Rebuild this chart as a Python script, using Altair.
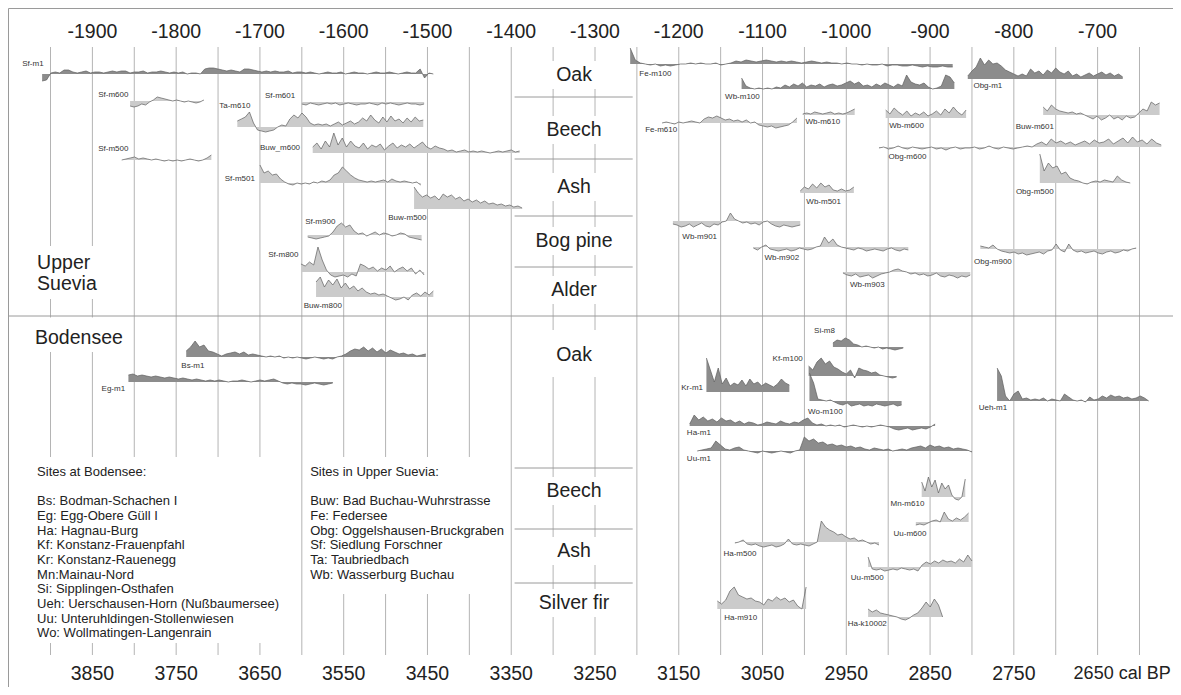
import altair as alt
import pandas as pd

FONT = "Liberation Sans"

# ---------------- axis labels ----------------
TOP_YEARS = [-1900, -1800, -1700, -1600, -1500, -1400, -1300, -1200, -1100, -1000, -900, -800, -700]
BP_LABELS = ["3850", "3750", "3650", "3550", "3450", "3350", "3250", "3150", "3050", "2950", "2850", "2750"]
BP_LAST = "2650 cal BP"
GRID_YEARS = list(range(-1950, -649, 50))

# ---------------- chronologies ----------------
NAMES = ["Sf-m1", "Sf-m600", "Sf-m601", "Ta-m610", "Buw_m600", "Sf-m500", "Sf-m501", "Buw-m500",
         "Sf-m900", "Sf-m800", "Buw-m800",
         "Fe-m100", "Wb-m100", "Obg-m1", "Fe-m610", "Wb-m610", "Wb-m600", "Buw-m601", "Obg-m600",
         "Wb-m501", "Obg-m500", "Wb-m901", "Wb-m902", "Wb-m903", "Obg-m900",
         "Bs-m1", "Eg-m1", "Si-m8", "Kf-m100", "Kr-m1", "Wo-m100", "Ueh-m1", "Ha-m1", "Uu-m1",
         "Mn-m610", "Uu-m600", "Ha-m500", "Uu-m500", "Ha-m910", "Ha-k10002"]
FIRST = [-1960, -1855, -1650, -1727, -1637, -1865, -1700, -1516, -1643, -1651, -1633,
         -1258, -1125, -855, -1220, -1052, -953, -765, -961, -1055, -769, -1207, -1111, -1004, -840,
         -1788, -1857, -1016, -1045, -1167, -1044, -820, -1187, -1178, -910, -917, -1133, -974, -1154, -974]
LAST = [-1493, -1767, -1504, -1505, -1390, -1758, -1508, -1387, -1507, -1504, -1493,
        -873, -871, -670, -1059, -990, -857, -626, -624, -991, -661, -1055, -926, -852, -654,
        -1502, -1613, -932, -940, -1068, -934, -639, -894, -850, -858, -854, -961, -850, -1048, -885]
SPECIES = ["oak", "other", "other", "other", "other", "other", "other", "other", "other", "other", "other",
           "oak", "oak", "oak", "other", "other", "other", "other", "other", "other", "other", "other",
           "other", "other", "other",
           "oak", "oak", "oak", "oak", "oak", "oak", "oak", "oak", "oak",
           "other", "other", "other", "other", "other", "other"]

VALUES = {
    "Sf-m1": [-7, -6, 1, 2, 1, 4, 4, 2, 1, 2, 3, 1, 2, 2, 1, 2, 3, 2, 3, 3, 1, 2, 2, 3, 1, 2, 2, 3, 2, 1,
              2, 1, 2, 0, 1, 1, 0, 5, 6, 6, 5, 4, 3, 4, 3, 2, 5, 5, 4, 3, 2, 3, 2, 3, 2, 2, 3, 1, 2, 2,
              1, 2, 1, 0, 1, 2, 1, 1, 2, 0, 1, 2, 1, 1, 0, 1, 2, 1, 1, 2, 1, 0, 1, 2, 1, 1, 5, -4, 1, 0],
    "Sf-m600": [-5, -6, -5, -3, -4, -1, 1, 4, 3, 2, 1, 0, 1, 0, -1, 0, -1, -2, -1, 1],
    "Sf-m601": [-2, -3, -1, -2, -3, -2, -1, -2, -1, -3, -2, -1, -2, -3, -2, -2, -1, -2, -3, -1,
                -2, -1, -2, -3, -2, -1, -2, -2, -3, -2],
    "Ta-m610": [6, 8, 10, 15, 4, -3, -4, -5, -4, -3, 0, 2, 1, 8, 12, 9, 14, 10, 4, 2, 3, 2, 3, 1,
                3, 5, 2, 4, 6, 3, 5, 9, 6, 12, 7, 4, 10, 5, 11, 6, 8, 4, 9, 5, 10, 6, 7],
    "Buw_m600": [6, 10, 4, 12, 6, 20, 8, 15, 6, 12, 7, 5, 10, 4, 8, 6, 9, 3, 7, 10, 5, 8,
                 6, 9, 5, 8, 11, 6, 4, 7, 5, 4, 2, 3, 1, 2, 3, 1, 2, 1, 2, 1, 0, 1, 2, 1, 2, 3, 1, 2],
    "Sf-m500": [0, 1, 2, 3, 1, 2, 1, 0, 1, 0, -1, 0, -1, 0, -1, 0, 1, 0, -1, 0, 2, 5],
    "Sf-m501": [18, 10, 12, 8, 9, 4, 1, -1, -2, 0, -1, 0, -1, 1, 0, 2, 1, 3, 8, 10, 16, 12, 8, 5, 3,
                2, 1, 2, 1, 2, 3, 1, 4, 2, 1, 2, 1, 0, 1, -2],
    "Buw-m500": [22, 16, 12, 14, 11, 13, 9, 15, 12, 14, 10, 12, 8, 10, 7, 9, 6, 8, 5, 6, 4, 5, 3, 4, 2, 3, 1],
    "Sf-m900": [-2, -3, -4, -3, -2, -1, 3, 9, 12, 8, 10, 4, 1, 2, -1, 1, 3, 0, 2, 1, -1, 0, 2, 1, -2, -3, -4, -5],
    "Sf-m800": [8, 6, 10, 7, 25, 12, 2, -3, -5, -4, -3, -5, -2, -4, 8, 6, 3, 5, 1, 4, 2, 6, 0, 3, 5, 1, 4, -2, 2, -3],
    "Buw-m800": [15, 20, 10, 17, 12, 18, 9, 14, 8, 11, 6, 9, 5, 3, 4, 2, 3, 1, -1, -3, -2, 0, -3,
                 2, 4, 1, 5, 2, 6],
    "Fe-m100": [16, 4, 1, 0, -1, 0, -2, -1, -2, -1, 0, 0, 1, 0, 1, 0, 0, 1, -1, 0, 1,
                3, 2, 4, 3, 2, 3, 4, 3, 2, 3, 2, 3, 2, 1, 2, 3, 2, 1, 2, 1,
                1, 0, 1, 0, 0, -1, 0, -1, -1, 0, -2, -1, -1, -2, -2, -1, -2, -3, -2, -3, -3, -2, -3, -3],
    "Wb-m100": [11, 3, 1, 0, 1, 0, 1, 0, 2, 1, 4, 2, 5, 3, 6, 2, 4, 3, 5, 2, 4, 5, 3, 4, 6, 8, 5, 7, 3, 4, 2,
                5, 3, 6, 4, 2, 5, 3, 14, 7, 5, 4, 6, 2, 0, 1, 3, 14, 12, 6],
    "Obg-m1": [3, 8, 12, 21, 14, 19, 15, 16, 13, 9, 7, 5, 3, 5, 3, 10, 6, 8, 4, 9, 6, 11, 7, 5, 8,
               3, 5, 2, 4, 6, 3, 5, 7, 4, 6, 3, 5, 2],
    "Fe-m610": [0, 1, 0, -1, 1, 0, 1, 2, 1, 0, 4, 6, 5, 7, 5, 3, 4, 2, 3, 1, 3, 0, 1,
                -2, -3, -4, -3, -5, -4, -3, -2, 1, 5],
    "Wb-m610": [1, 2, 1, 3, 2, 1, 2, 3, 1, 2, 1, 2, 4, 6],
    "Wb-m600": [8, 4, 10, 6, 3, 7, 2, 5, 3, 6, 2, 4, 7, 3, 9, 5, 11, 6, 3, 8],
    "Buw-m601": [8, 4, 10, 6, 4, 3, 2, 3, 1, 2, 0, -2, -4, -1, -5, -3, 0, -4, -2, -5, -1, -3, -2,
                 2, 6, 4, 13, 10, 12],
    "Obg-m600": [-1, 0, -2, -1, 1, -1, -2, 0, -1, -2, -1, 0, -2, -1, -3, -1, 0, -2, -1, -1, 0, -2, -1, 1,
                 -1, -2, 0, -1, -2, -1, 0, 1, 0,
                 3, 5, 2, 8, 4, 6, 3, 5, 2, 4, 6, 3, 7, 4, 5, 8, 3, 6, 9, 4, 10, 5, 7, 3, 8, 4, 2],
    "Wb-m501": [2, 6, 4, 9, 5, 10, 6, 8, 3, 2, 4, 2, 3, 6],
    "Obg-m500": [29, 12, 20, 15, 17, 9, 11, 5, 3, 2, 0, -1, 1, 2, 1, 3, 2, 1, 7, 3, 1, 0],
    "Wb-m901": [-3, -4, -6, -5, -3, -6, -4, -2, -5, -6, -3, -4, -1, 0, 8, 2, 0, -2, -1, -3, -2, -4, -1, 0,
                -3, -5, -6, -4, -5, -6, -5, -4],
    "Wb-m902": [-1, -3, 0, 2, -2, -3, -4, -3, -2, -4, -3, -1, -2, -3, -2, 0, 1, 10, 4, 8,
                2, 0, -1, -2, -3, -1, -2, -4, -3, -2, -3, -4, -2, -1, -3, -4, -2, -3],
    "Wb-m903": [-1, -3, -4, -2, -5, -4, -3, -6, -4, -2, -1, 0, 2, 3, 1, 0, -2, -1, -3, -2, -4, -3, -1,
                -4, -5, -3, -4, -6, -4, -5, -3],
    "Obg-m900": [3, 2, 1, 4, 0, -2, -3, -4, -3, -5, -4, -6, -5, -4, -3, -5, -2, -1, 5, -1, -3, 5,
                 -1, -3, -2, -4, -3, -2, -4, -5, -3, -2, -4, -3, -1, -2, 0, 1],
    "Bs-m1": [6, 10, 16, 10, 12, 6, 5, 3, 1, 3, 4, 5, 3, 5, 2, 3,
              2, 1, 0, 1, 0, 1, -1, 0, -1, 0, -1, -2, -1, 0, -1, -2, -1, -2, 0, 1,
              3, 6, 8, 7, 10, 6, 9, 5, 8, 4, 7, 5, 3, 4, 2, 3, 1, 2, 3],
    "Eg-m1": [7, 8, 6, 7, 6, 5, 6, 5, 4, 5, 4, 3, 4, 3, 2, 3, 2, 1, 2, 1, 2, 1, 0, 1, 1, 2, 1, 0, 1, 2, 1, 2, 3, 1,
              -1, -2, -1, -2, -2, -3, -2, -1, -2, -3, -2, -1],
    "Si-m8": [4, 7, 6, 9, 7, 3, 2, 0, 1, 0, -1, 0, -2, -1, -2, -3, -2, -1],
    "Kf-m100": [10, 6, 14, 18, 12, 15, 9, 7, 4, 2, 6, -2, 8, 6, 5, 3, 4, 1, 0, -1, -2, -1],
    "Kr-m1": [34, 22, 10, 24, 8, 14, 6, 9, 7, 12, 6, 13, 8, 10, 6, 9, 7, 5, 8, 13, 9, 7],
    "Wo-m100": [28, 18, 2, 1, 0, 1, -1, -3, -4, -2, -5, -4, -3, -5, -4, -5, -3, -4, -5, -4, -3, -5, -4],
    "Ueh-m1": [33, 25, 5, 0, 7, 10, 2, 3, 1, 2, 1, 3, 0, 2, 1, 0, 7, 4, 1, 0, 1, -1, 4, 1, 2,
               5, 3, 6, 4, 5, 3, 4, 2, 3, 5, 3, 0],
    "Ha-m1": [2, 11, 6, 9, 5, 7, 4, 8, 5, 6, 3, 5, 2, 4, 3, 1, 2, 4, 3, 2, 5, 3, 2, 4, 3, 6, 8,
              3, 1, 2, 0, 1, 0, 1, -1, 0, 1, 0, -1, 0, -1, 0, 1, 0, -1,
              -3, -4, -3, -2, -4, -3, -2, -3, -1, 2],
    "Uu-m1": [0, 1, 2, 3, 10, 6, 2, 1, 3, 4, 1, 0, -1, -2, 0, -1, -2, -1, 0, -1, -2, 0, 1,
              14, 10, 12, 8, 9, 6, 7, 5, 6, 4, 5, 3, 4,
              2, 1, 3, 2, 1, 2, 0, 1, 2, 1, 3, 4, 5, 3, 6, 4, 5, 3, 4, 2, 3, 2, 1, -1],
    "Mn-m610": [15, 6, 20, 10, 17, 4, 14, 8, 12, 2, -2, -3, 0, 18],
    "Uu-m600": [-3, -2, -3, -1, 1, 2, 0, 10, 3, 1, 4, 2, 5, 9],
    "Ha-m500": [-1, 0, 2, -2, -3, -2, -4, -5, -4, -3, -5, -4, -2, 3, -2, -3, -2, -3, -4, -2, 0, 21,
                15, 12, 10, 7, 8, 5, 3, 4, 1, 2, 0, -2, -1, -3],
    "Uu-m500": [10, -2, -3, -2, -4, -3, -2, -3, -1, -2, -3, -2, -4, 2, 5, 3, 6, 4, 7, 5, 6, 4, 8, 5, 12, 6],
    "Ha-m910": [8, 5, 9, 18, 22, 14, 12, 10, 11, 8, 7, 4, 10, 8, 12, 9, 11, 7, 9, 3, 0, 22],
    "Ha-k10002": [8, 5, 7, 4, 3, 2, 1, 0, -2, -3, -1, 2, 4, 9, 15, 10, 18, 12, 0],
}

# ---------------- layout (row baselines in px, label anchors) ----------------
BASE = {"Sf-m1": 74, "Sf-m600": 101, "Sf-m601": 102, "Ta-m610": 127, "Buw_m600": 153, "Sf-m500": 160,
        "Sf-m501": 183, "Buw-m500": 209, "Sf-m900": 235, "Sf-m800": 272, "Buw-m800": 297,
        "Fe-m100": 64, "Wb-m100": 89, "Obg-m1": 79, "Fe-m610": 123, "Wb-m610": 115, "Wb-m600": 118,
        "Buw-m601": 115, "Obg-m600": 147, "Wb-m501": 193, "Obg-m500": 183, "Wb-m901": 221,
        "Wb-m902": 247, "Wb-m903": 272, "Obg-m900": 249,
        "Bs-m1": 357, "Eg-m1": 382, "Si-m8": 347, "Kf-m100": 376, "Kr-m1": 392, "Wo-m100": 401,
        "Ueh-m1": 401, "Ha-m1": 426, "Uu-m1": 451, "Mn-m610": 497, "Uu-m600": 522, "Ha-m500": 542,
        "Uu-m500": 567, "Ha-m910": 609, "Ha-k10002": 617}
LABEL_AT = {"Sf-m1": (-1971, 64), "Sf-m600": (-1875, 95), "Sf-m601": (-1676, 96), "Ta-m610": (-1730, 106),
            "Buw_m600": (-1676, 148), "Sf-m500": (-1875, 149), "Sf-m501": (-1724, 179),
            "Buw-m500": (-1524, 218), "Sf-m900": (-1628, 222), "Sf-m800": (-1672, 255),
            "Buw-m800": (-1625, 306),
            "Fe-m100": (-1228, 74), "Wb-m100": (-1124, 97), "Obg-m1": (-831, 86), "Fe-m610": (-1221, 130),
            "Wb-m610": (-1028, 122), "Wb-m600": (-928, 126), "Buw-m601": (-775, 127),
            "Obg-m600": (-927, 157), "Wb-m501": (-1027, 202), "Obg-m500": (-775, 192),
            "Wb-m901": (-1175, 237), "Wb-m902": (-1077, 258), "Wb-m903": (-975, 285),
            "Obg-m900": (-825, 262),
            "Bs-m1": (-1780, 366), "Eg-m1": (-1875, 389), "Si-m8": (-1026, 331), "Kf-m100": (-1070, 359),
            "Kr-m1": (-1184, 388), "Wo-m100": (-1025, 412), "Ueh-m1": (-825, 408), "Ha-m1": (-1176, 433),
            "Uu-m1": (-1176, 459), "Mn-m610": (-927, 504), "Uu-m600": (-924, 534), "Ha-m500": (-1127, 554),
            "Uu-m500": (-975, 578), "Ha-m910": (-1126, 618), "Ha-k10002": (-975, 624)}

WOOD = ["Oak", "Beech", "Ash", "Bog pine", "Alder", "Oak", "Beech", "Ash", "Silver fir"]
WOOD_Y = [75, 130, 187, 241, 290, 355, 491, 551, 603]
WOOD_SEP_Y = [97, 159, 216, 267, 468, 529, 583]

LEGEND_BODENSEE = ["Sites at Bodensee:", "", "Bs: Bodman-Schachen I", "Eg: Egg-Obere Güll I",
                   "Ha: Hagnau-Burg", "Kf: Konstanz-Frauenpfahl", "Kr: Konstanz-Rauenegg",
                   "Mn:Mainau-Nord", "Si: Sipplingen-Osthafen", "Ueh: Uerschausen-Horn (Nußbaumersee)",
                   "Uu: Unteruhldingen-Stollenwiesen", "Wo: Wollmatingen-Langenrain"]
LEGEND_SUEVIA = ["Sites in Upper Suevia:", "", "Buw: Bad Buchau-Wuhrstrasse", "Fe: Federsee",
                 "Obg: Oggelshausen-Bruckgraben", "Sf: Siedlung Forschner", "Ta: Taubriedbach",
                 "Wb: Wasserburg Buchau"]

# ---------------- build tables ----------------
rows = []
for name, a, b, sp in zip(NAMES, FIRST, LAST, SPECIES):
    vals = VALUES[name]
    n = len(vals)
    for i, v in enumerate(vals):
        rows.append({"series": name, "year": a + i * (b - a) / (n - 1),
                     "y": BASE[name] - v, "base": BASE[name], "species": sp})
series_df = pd.DataFrame(rows)

labels_df = pd.DataFrame([{"text": k, "year": v[0], "y": v[1]} for k, v in LABEL_AT.items()])

XD = [-2000.75, -610.0]
YD = [8, 687]
xs = alt.Scale(domain=XD, nice=False, zero=False)
ys = alt.Scale(domain=YD, nice=False, zero=False, reverse=True)


def X(f="year"):
    return alt.X(f"{f}:Q", scale=xs, axis=None)


def Y(f="y"):
    return alt.Y(f"{f}:Q", scale=ys, axis=None, stack=None)


grid_df = pd.DataFrame({"year": GRID_YEARS, "y": 47, "y2": 655})
grid = alt.Chart(grid_df).mark_rule(color="#b4b4b4", strokeWidth=1).encode(
    x=X(), y=Y(), y2="y2:Q")

boxes = [(-1975, -1873, 246, 299), (-1975, -1860, 317.5, 352)]
for t, yy in zip(WOOD, WOOD_Y):
    if yy == 355:
        boxes.append((-1368, -1282, 330, 377))
    else:
        boxes.append((-1368, -1282, yy - 14, yy + 14))
boxes += [(-1975, -1680, 457, 643), (-1630, -1420, 457, 594)]
box_df = pd.DataFrame(boxes, columns=["x", "x2", "y", "y2"])
white = alt.Chart(box_df).mark_rect(color="white").encode(
    x=X("x"), x2="x2:Q", y=Y(), y2="y2:Q")

sep_df = pd.DataFrame({"x": [-1396] * len(WOOD_SEP_Y), "x2": [-1255] * len(WOOD_SEP_Y), "y": WOOD_SEP_Y})
seps = alt.Chart(sep_df).mark_rule(color="#9a9a9a", strokeWidth=1).encode(
    x=X("x"), x2="x2:Q", y=Y())
main_sep = alt.Chart(pd.DataFrame({"x": [XD[0]], "x2": [XD[1]], "y": [316]})).mark_rule(
    color="#9a9a9a", strokeWidth=1).encode(x=X("x"), x2="x2:Q", y=Y())

area = alt.Chart(series_df).mark_area(opacity=1, interpolate="linear").encode(
    x=X(), y=Y(), y2="base:Q", detail="series:N",
    color=alt.Color("species:N", scale=alt.Scale(domain=["oak", "other"], range=["#8c8c8c", "#cbcbcb"]),
                    legend=None))
line = alt.Chart(series_df).mark_line(color="#5e5e5e", strokeWidth=0.7).encode(
    x=X(), y=Y(), detail="series:N")

slabels = alt.Chart(labels_df).mark_text(font=FONT, fontSize=8, color="#333", baseline="middle").encode(
    x=X(), y=Y(), text="text:N")

wood_df = pd.DataFrame({"text": WOOD, "y": WOOD_Y, "year": -1325})
wood = alt.Chart(wood_df).mark_text(font=FONT, fontSize=19.5, color="#222", baseline="middle").encode(
    x=X(), y=Y(), text="text:N")

region_df = pd.DataFrame({"text": ["Upper", "Suevia", "Bodensee"], "year": [-1966, -1966, -1968.5],
                          "y": [263, 284, 338]})
region = alt.Chart(region_df).mark_text(font=FONT, fontSize=19.5, color="#222", baseline="middle",
                                        align="left").encode(x=X(), y=Y(), text="text:N")

top_df = pd.DataFrame({"year": TOP_YEARS, "text": [str(v) for v in TOP_YEARS], "y": 32})
top = alt.Chart(top_df).mark_text(font=FONT, fontSize=19.5, color="#222", baseline="middle").encode(
    x=X(), y=Y(), text="text:N")
bot_df = pd.DataFrame({"year": TOP_YEARS[:-1], "text": BP_LABELS, "y": 674})
bot = alt.Chart(bot_df).mark_text(font=FONT, fontSize=19.5, color="#222", baseline="middle").encode(
    x=X(), y=Y(), text="text:N")
# last bottom label: "2650" sits on the -700 grid line, followed by the unit
calbp = alt.Chart(pd.DataFrame({"year": [TOP_YEARS[-1]], "y": [674], "text": [BP_LAST]})).mark_text(
    font=FONT, fontSize=18, color="#222", baseline="middle", align="left", dx=-24).encode(
    x=X(), y=Y(), text="text:N")

leg_rows = []
for k, t in enumerate(LEGEND_BODENSEE):
    leg_rows.append({"text": t, "year": -1966, "y": 472 + k * 14.67})
for k, t in enumerate(LEGEND_SUEVIA):
    leg_rows.append({"text": t, "year": -1640, "y": 472 + k * 14.67})
leg_df = pd.DataFrame([r for r in leg_rows if r["text"]])
legend = alt.Chart(leg_df).mark_text(font=FONT, fontSize=13, color="#222", baseline="middle",
                                     align="left").encode(x=X(), y=Y(), text="text:N")

chart = alt.layer(grid, white, seps, main_sep, area, line, slabels, wood, region, top, bot, calbp, legend).properties(
    width=1165, height=679, autosize=alt.AutoSizeParams(type="none"), padding=0
).configure_view(stroke="#9a9a9a", strokeWidth=1)

chart.save("out.html", embed_options={"renderer": "svg", "actions": False})
